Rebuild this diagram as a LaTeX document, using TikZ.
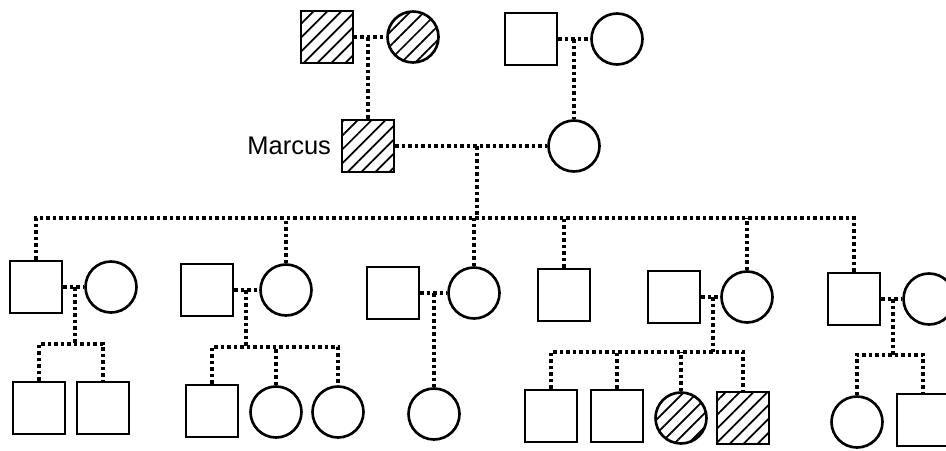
\documentclass[tikz,border=0pt]{standalone}
\usepackage{fontspec}
\setsansfont{Liberation Sans}
\usetikzlibrary{positioning,patterns.meta}

\tikzset{
    male/.style={draw, rectangle, minimum size=1.04cm, inner sep=0pt, line width=1.5pt},
    female/.style={draw, circle, minimum size=1.02cm, inner sep=0pt, line width=1.5pt},
    affected/.style={pattern={Lines[angle=45,distance=5.6pt,line width=1pt]}},
    link/.style={line width=2pt, dash pattern=on 2pt off 1.7pt}
}

\begin{document}
\begin{tikzpicture}[x=0.02cm, y=-0.02cm]
    \useasboundingbox (0,0) rectangle (946,450);
    \clip (0,0) rectangle (946,450);

    %generation I
    \node[male,affected] (gf1) at (327,37) {};
    \node[female,affected] (gm1) at (413,37) {};
    \node[male] (gf2) at (531,39) {};
    \node[female] (gm2) at (617,39) {};
    \coordinate (m1) at (368,37);
    \coordinate (m2) at (574,39);
    \draw[link] (gf1) -- (gm1);
    \draw[link] (gf2) -- (gm2);

    %generation II
    \node[male,affected] (marcus) at (368,146) {};
    \node[female] (wife) at (574,146) {};
    \node[left=0.07cm of marcus, font=\sffamily\fontsize{14.5}{16}\selectfont] (name) {Marcus};
    \draw[link] (m1) -- (marcus);
    \draw[link] (m2) -- (wife);
    \draw[link] (marcus) -- (wife);
    \coordinate (m3) at (477,146);
    \coordinate (s1) at (477,218);
    \draw[link] (m3) -- (s1);

    %generation III
    \node[male] (c1) at (36,287) {};
    \node[female] (sp1) at (111,287) {};
    \node[male] (sp2) at (207,290) {};
    \node[female] (c2) at (286,290) {};
    \node[male] (sp3) at (393,293) {};
    \node[female] (c3) at (474,293) {};
    \node[male] (c4) at (564,295) {};
    \node[male] (sp5) at (674,297) {};
    \node[female] (c5) at (747,297) {};
    \node[male] (c6) at (854,299) {};
    \node[female] (sp6) at (929,299) {};
    \draw[link] (c1) -- (c1 |- s1) -- (c6 |- s1) -- (c6);
    \foreach \c in {c2,c3,c4,c5}
        \draw[link] (\c) -- (\c |- s1);
    \draw[link] (c1) -- (sp1);
    \draw[link] (sp2) -- (c2);
    \draw[link] (sp3) -- (c3);
    \draw[link] (sp5) -- (c5);
    \draw[link] (c6) -- (sp6);

    %generation IV
    \coordinate (m4) at (75,287);
    \coordinate (s4) at (75,344);
    \node[male] (g11) at (39,408) {};
    \node[male] (g12) at (103,408) {};
    \draw[link] (m4) -- (s4);
    \draw[link] (g11) -- (g11 |- s4) -- (g12 |- s4) -- (g12);

    \coordinate (m5) at (246,290);
    \coordinate (s5) at (246,347);
    \node[male] (g21) at (212,411) {};
    \node[female] (g22) at (276,412) {};
    \node[female] (g23) at (338,412) {};
    \draw[link] (m5) -- (s5);
    \draw[link] (g21) -- (g21 |- s5) -- (g23 |- s5) -- (g23);
    \draw[link] (g22) -- (g22 |- s5);

    \coordinate (m6) at (434,293);
    \node[female] (g31) at (434,414) {};
    \draw[link] (m6) -- (g31);

    \coordinate (m7) at (713,297);
    \coordinate (s7) at (713,352);
    \node[male] (g51) at (551,416) {};
    \node[male] (g52) at (617,416) {};
    \node[female,affected] (g53) at (681,418) {};
    \node[male,affected] (g54) at (743,418) {};
    \draw[link] (m7) -- (s7);
    \draw[link] (g51) -- (g51 |- s7) -- (g54 |- s7) -- (g54);
    \draw[link] (g52) -- (g52 |- s7);
    \draw[link] (g53) -- (g53 |- s7);

    \coordinate (m8) at (893,299);
    \coordinate (s8) at (893,355);
    \node[female] (g61) at (857,422) {};
    \node[male] (g62) at (923,420) {};
    \draw[link] (m8) -- (s8);
    \draw[link] (g61) -- (g61 |- s8) -- (g62 |- s8) -- (g62);

\end{tikzpicture}
\end{document}
